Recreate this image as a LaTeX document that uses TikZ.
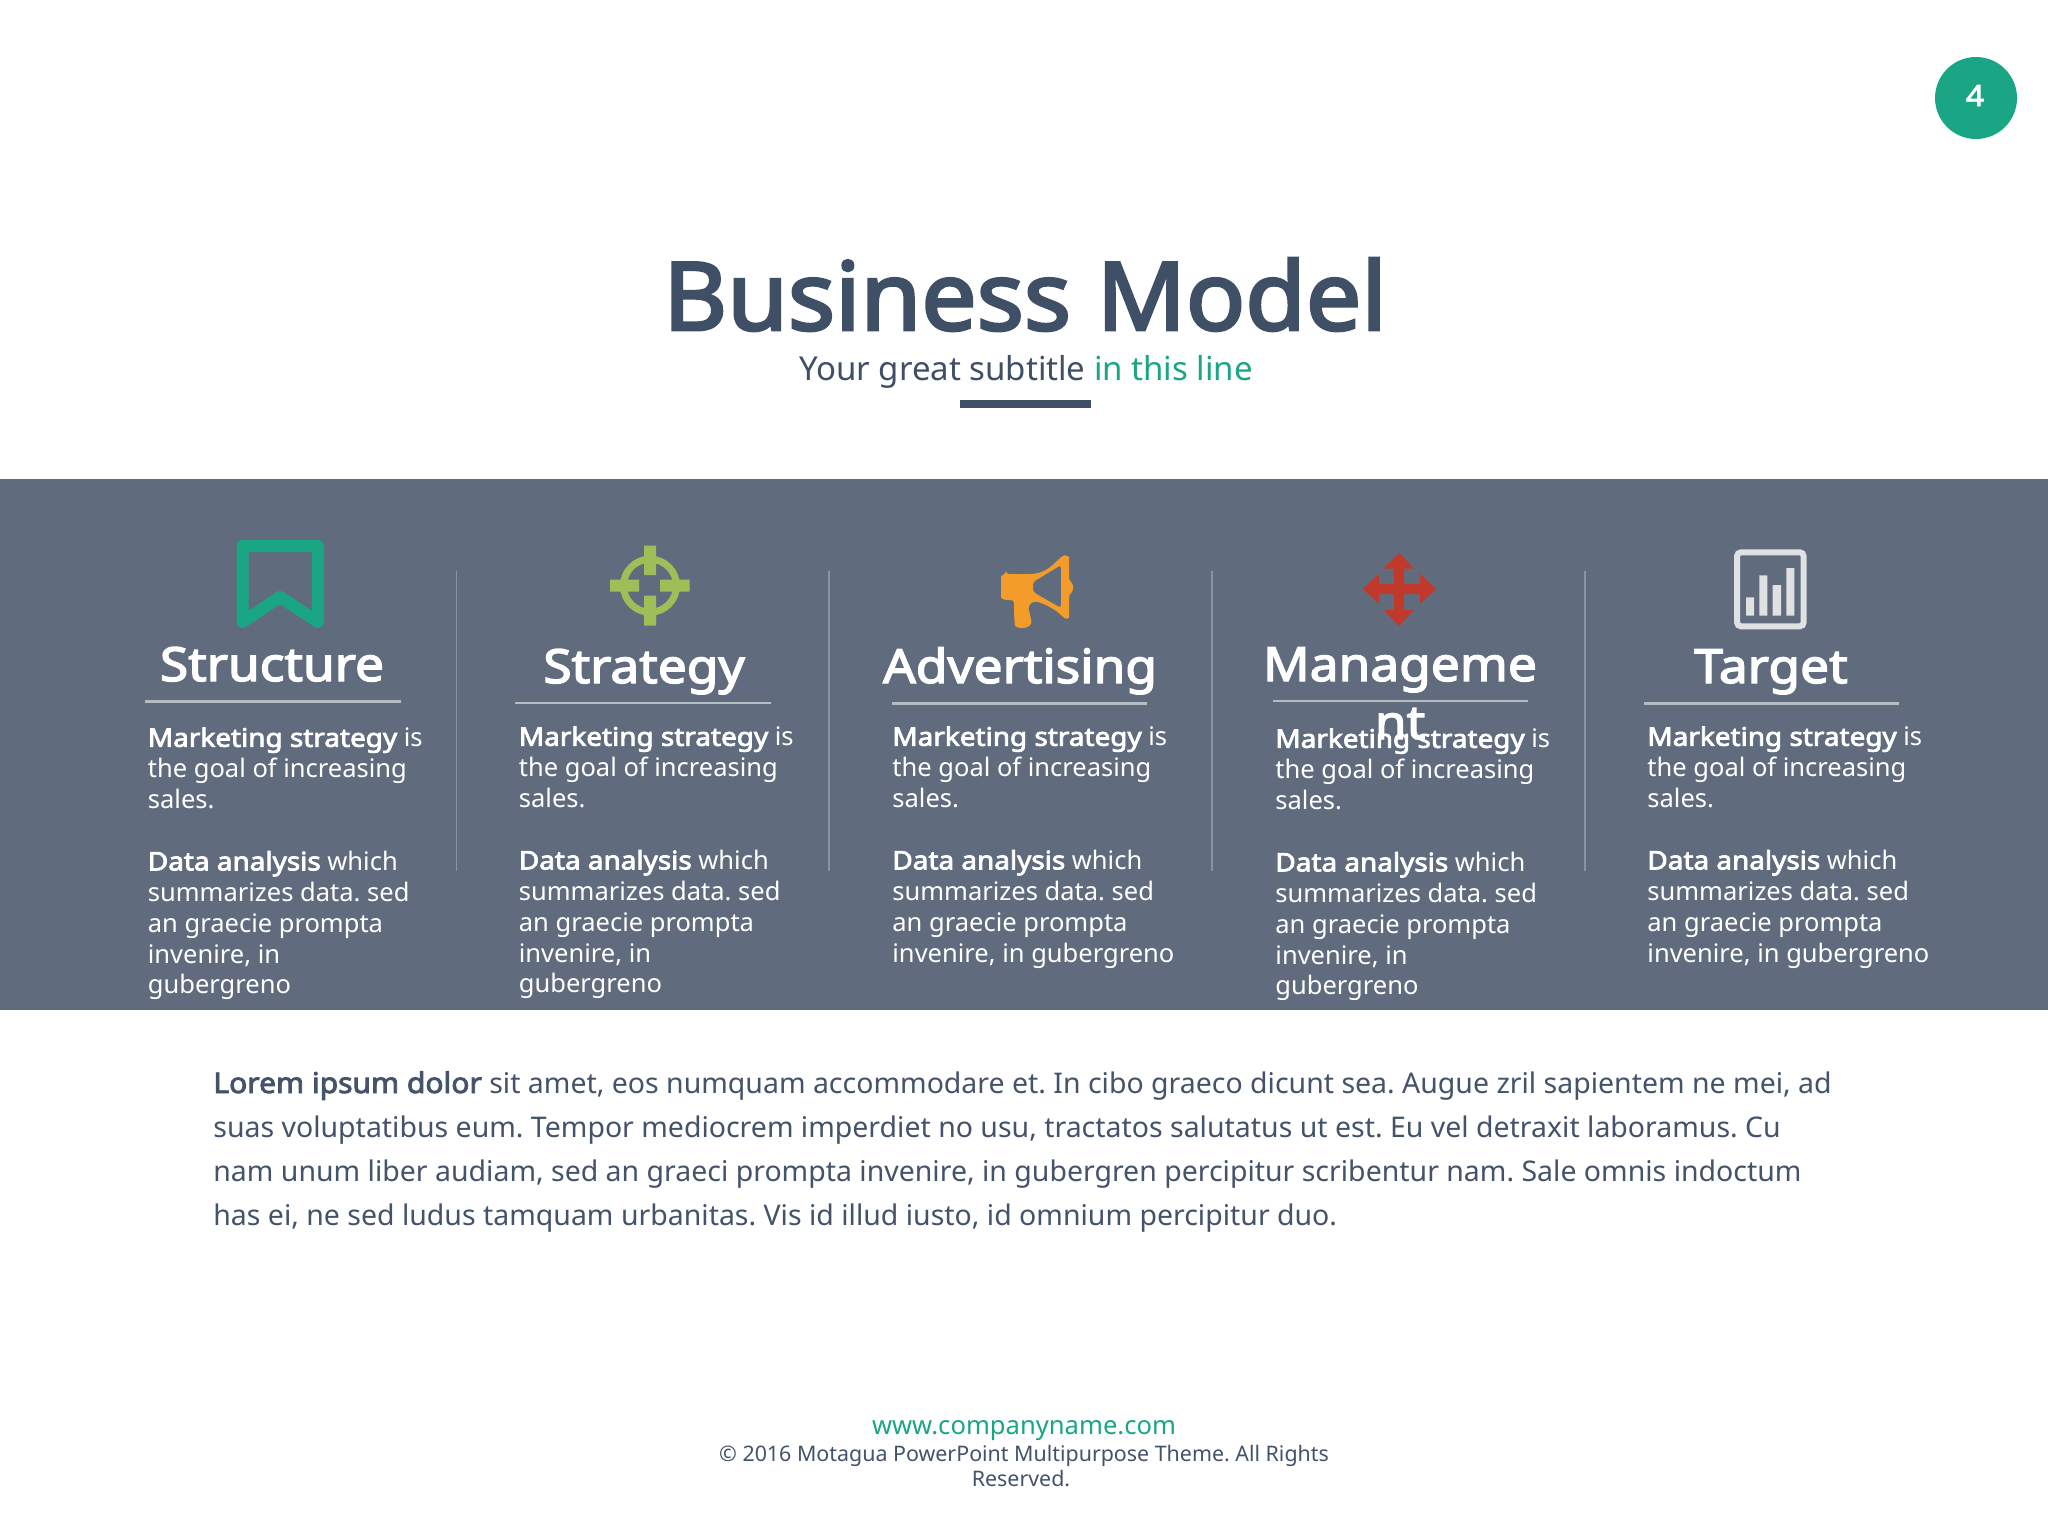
\documentclass[tikz,border=0pt]{standalone}
\usepackage{fontspec}
\setmainfont{Noto Sans}[BoldFont={Noto Sans},BoldFeatures={FakeBold=3,FakeStretch=1.094}]
\newfontfamily\titlefont{Noto Sans}[FakeBold=3,FakeStretch=1.04]
\newfontfamily\lowboldfont{Noto Sans}[FakeBold=3,FakeStretch=1.055]
\frenchspacing
\definecolor{band}{HTML}{606C7E}
\definecolor{slate}{HTML}{3F4F66}
\definecolor{bodyink}{HTML}{44536A}
\definecolor{teal}{HTML}{1AA585}
\definecolor{rulegrey}{HTML}{B5BBC3}
\definecolor{divgrey}{HTML}{8A93A1}
\definecolor{lime}{HTML}{9FBE57}
\definecolor{amber}{HTML}{F39C2A}
\definecolor{brick}{HTML}{C0392B}
\definecolor{chartgrey}{HTML}{DFE1E3}
\newcommand{\fs}[2]{\fontsize{#1pt}{#2pt}\selectfont}
\newcommand{\para}{\textbf{Marketing strategy} is\\the goal of increasing\\sales.\\[15.45pt]\textbf{Data analysis} which\\summarizes data. sed\\an graecie prompta\\}
\tikzset{
 x=0.5pt,y=-0.5pt,
 coltext/.style={anchor=north west,inner sep=0pt,align=left,text=white,font=\fs{12.75}{15.45}},
 headtext/.style={anchor=base,inner sep=0pt,align=center,text=white,font=\fs{23.5}{25}\bfseries},
 headrule/.style={draw=rulegrey,line width=1.4pt},
 divider/.style={draw=divgrey,line width=0.6pt},
 foot/.style={anchor=base,inner sep=0pt,text=bodyink,font=\fs{10.7}{12}},
 lowline/.style={anchor=base west,inner sep=0pt,text=bodyink,font=\fs{14.23}{22}},
}
\begin{document}
\begin{tikzpicture}
\useasboundingbox (0,0) rectangle (2048,1536);
\fill[white] (0,0) rectangle (2048,1536);
% badge
\node[circle,fill=teal,minimum size=41pt,inner sep=0pt] (badge) at (1976,98) {};
\node[anchor=base,inner sep=0pt,text=white,font=\fs{14.5}{16}\bfseries] (badgenum) at (1975,106) {4};
% title
\node[anchor=base,inner sep=0pt,text=slate,font=\fs{47.3}{50}\titlefont] (title) at (1025,330) {Business Model};
\node[anchor=base,inner sep=0pt,text=slate,font=\fs{16.5}{20}] (subtitle) at (1026,380) {Your great subtitle \textcolor{teal}{in this line}};
\fill[slate] (960,400) rectangle (1091,407.5);
% band
\fill[band] (0,479) rectangle (2048,1010);
% dividers
\foreach \x/\n in {456.5/a,829/b,1212/c,1585/d}{
 \coordinate (dt\n) at (\x,571); \coordinate (db\n) at (\x,871);
 \draw[divider] (dt\n) -- (db\n);
}
% bookmark
\draw[teal,line width=6pt,line join=round,line cap=round] (242.5,546) -- (318,546) -- (318,622) -- (280,597) -- (242.5,622) -- cycle;
% crosshair
\draw[lime,line width=3.5pt] (650,585.7) circle [radius=26.5];
\fill[lime] (644,545.7) rectangle (656,575) (644,595.7) rectangle (656,625.7) (610,579.7) rectangle (639,591.7) (660,579.7) rectangle (689.5,591.7);
% megaphone
\fill[amber,even odd rule,rounded corners=1.5pt]
 (1006,574) -- (1032,574) .. controls (1046,572) and (1052,566) .. (1062,556) .. controls (1066,555) and (1069,557) .. (1069,560) -- (1069,581) -- (1073,583) -- (1073,592) -- (1069,594) -- (1069,615) .. controls (1069,618) and (1066,619) .. (1063,617) .. controls (1054,608) and (1042,603) .. (1034,601) -- (1028,606) -- (1032,624) -- (1026,628) -- (1018,628) .. controls (1015,626) and (1014,622) .. (1014,600) -- (1006,600) .. controls (1002,599) and (1001,597) .. (1001,594) -- (1001,580) .. controls (1001,577) and (1002,575) .. (1006,574) -- cycle
 (1033,582) -- (1061,565) -- (1061,608) -- (1033,592) -- cycle;
% arrows
\fill[brick] (1399,552.7) -- (1414,568.5) -- (1404,568.5) -- (1404,584) -- (1420,584) -- (1420,574) -- (1436,589) -- (1420,604) -- (1420,594) -- (1404,594) -- (1404,610) -- (1414,610) -- (1399,626) -- (1384,610) -- (1394,610) -- (1394,594) -- (1379,594) -- (1379,604) -- (1362.7,589) -- (1379,574) -- (1379,584) -- (1394,584) -- (1394,568.5) -- (1384,568.5) -- cycle;
% chart
\draw[chartgrey,line width=3pt,rounded corners=2pt] (1737,552.3) rectangle (1803.7,626.3);
\fill[chartgrey] (1746,597.3) rectangle (1754,615.7) (1759.3,575.3) rectangle (1767.3,615.7) (1772.7,585) rectangle (1781,615.7) (1786.3,568) rectangle (1794.3,615.7);
% headings
\node[headtext] (h1) at (272,681) {Structure};
\node[headtext] (h2) at (644,683) {Strategy};
\node[headtext] (h3) at (1020,683) {Advertising};
\node[headtext] (h4) at (1400,681) {Manageme};
\node[headtext] (h4b) at (1400,739) {nt};
\node[headtext] (h5) at (1771,683) {Target};
% rules
\foreach \a/\b/\y/\n in {145/401/701.3/1,515/771/703/2,892/1147/703.5/3,1273/1528/701/4,1644/1899/703.5/5}{
 \coordinate (rl\n) at (\a,\y); \coordinate (rr\n) at (\b,\y);
 \draw[headrule] (rl\n) -- (rr\n);
}
% columns
\node[coltext] (c1) at (147.5,727) {\para invenire, in\\gubergreno};
\node[coltext] (c2) at (518.5,726) {\para invenire, in\\gubergreno};
\node[coltext] (c3) at (892,726) {\para invenire, in gubergreno};
\node[coltext] (c4) at (1275,728) {\para invenire, in\\gubergreno};
\node[coltext] (c5) at (1647,726) {\para invenire, in gubergreno};
% lower
\node[lowline] (l1) at (213,1093) {{\lowboldfont Lorem ipsum dolor} sit amet, eos numquam accommodare et. In cibo graeco dicunt sea. Augue zril sapientem ne mei, ad};
\node[lowline] (l2) at (213,1137) {suas voluptatibus eum. Tempor mediocrem imperdiet no usu, tractatos salutatus ut est. Eu vel detraxit laboramus. Cu};
\node[lowline] (l3) at (213,1181) {nam unum liber audiam, sed an graeci prompta invenire, in gubergren percipitur scribentur nam. Sale omnis indoctum};
\node[lowline] (l4) at (213,1225) {has ei, ne sed ludus tamquam urbanitas. Vis id illud iusto, id omnium percipitur duo.};
% footer
\node[foot,text=teal,font=\fs{12.8}{14}] (web) at (1024,1434) {www.companyname.com};
\node[foot] (copy1) at (1024,1461) {© 2016 Motagua PowerPoint Multipurpose Theme. All Rights};
\node[foot] (copy2) at (1021,1486) {Reserved.};
\end{tikzpicture}
\end{document}
